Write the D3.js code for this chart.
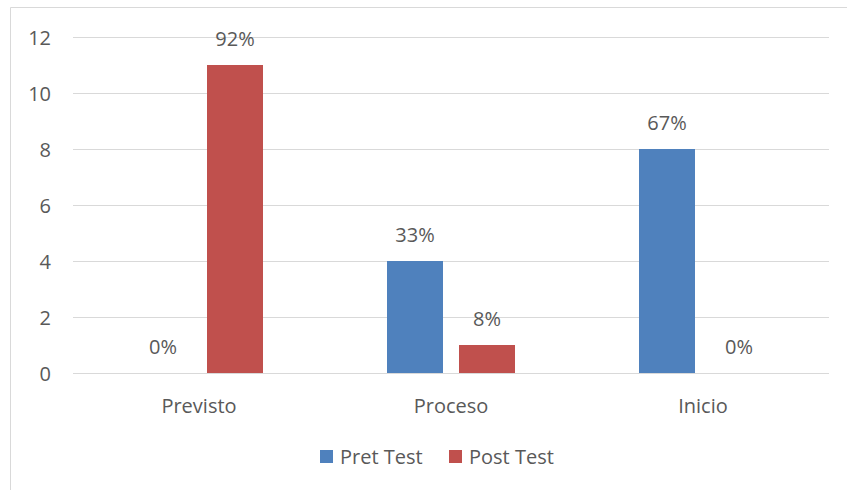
<!DOCTYPE html>
<html>
<head>
<meta charset="utf-8">
<script src="https://cdn.jsdelivr.net/npm/d3@7"></script>
<style>
  body { margin: 0; background: #fff; }
  text { font-family: "Open Sans", "Liberation Sans", sans-serif; fill: #595959; }
</style>
</head>
<body>
<svg id="svg"></svg>
<script>
const categories = ["Previsto", "Proceso", "Inicio"];
const seriesNames = ["Pret Test", "Post Test"];
const pretValues = [0, 4, 8];
const postValues = [11, 1, 0];
const pretLabels = ["0%", "33%", "67%"];
const postLabels = ["92%", "8%", "0%"];
const colors = ["#4F81BD", "#C0504D"];
const yTicks = [0, 2, 4, 6, 8, 10, 12];

let width = 847;
let height = 490;
let fontSize = "20px";
let svg = d3.select("#svg").attr("width", width).attr("height", height);

// chart frame (light border, cut at right/bottom like the screenshot)
svg.append("path")
    .attr("d", "M10.5," + height + "V7.5H" + width)
    .attr("fill", "none")
    .attr("stroke", "#D9D9D9");

let plotLeft = 73, plotRight = 829, plotTop = 37, plotBottom = 373;

let x = d3.scaleBand().domain(categories).range([plotLeft, plotRight]);
let xs = d3.scaleBand().domain(seriesNames).range([62, 252 - 62]).paddingInner(16 / 72);
let y = d3.scaleLinear().domain([0, 12]).range([plotBottom, plotTop]);

// gridlines
svg.append("g").selectAll("line")
    .data(yTicks)
    .join("line")
    .attr("x1", plotLeft).attr("x2", plotRight)
    .attr("y1", d => Math.round(y(d)) + 0.5)
    .attr("y2", d => Math.round(y(d)) + 0.5)
    .attr("stroke", "#D9D9D9")
    .attr("stroke-width", 1);

// y tick labels
svg.append("g").selectAll("text")
    .data(yTicks)
    .join("text")
    .attr("x", 51)
    .attr("y", d => y(d))
    .attr("text-anchor", "end")
    .attr("dominant-baseline", "central")
    .attr("font-size", fontSize)
    .text(d => d);

let series = [
    { name: seriesNames[0], values: pretValues, labels: pretLabels, color: colors[0] },
    { name: seriesNames[1], values: postValues, labels: postLabels, color: colors[1] }
];

series.forEach(s => {
    let g = svg.append("g");
    g.selectAll("rect")
        .data(categories)
        .join("rect")
        .attr("x", (c) => x(c) + xs(s.name))
        .attr("width", xs.bandwidth())
        .attr("y", (c, i) => y(s.values[i]))
        .attr("height", (c, i) => plotBottom - y(s.values[i]))
        .attr("fill", s.color);

    g.selectAll("text")
        .data(categories)
        .join("text")
        .attr("x", (c) => x(c) + xs(s.name) + xs.bandwidth() / 2)
        .attr("y", (c, i) => y(s.values[i]) - 27)
        .attr("text-anchor", "middle")
        .attr("dominant-baseline", "central")
        .attr("font-size", fontSize)
        .text((c, i) => s.labels[i]);
});

// category labels
svg.append("g").selectAll("text")
    .data(categories)
    .join("text")
    .attr("x", c => x(c) + x.bandwidth() / 2)
    .attr("y", 405)
    .attr("text-anchor", "middle")
    .attr("dominant-baseline", "central")
    .attr("font-size", fontSize)
    .text(c => c);

// legend
let legendX = [320, 449];
let legend = svg.append("g");
series.forEach((s, i) => {
    legend.append("rect")
        .attr("x", legendX[i]).attr("y", 450)
        .attr("width", 13).attr("height", 13)
        .attr("fill", s.color);
    legend.append("text")
        .attr("x", legendX[i] + 20).attr("y", 456)
        .attr("dominant-baseline", "central")
        .attr("font-size", fontSize)
        .text(s.name);
});
</script>
</body>
</html>
